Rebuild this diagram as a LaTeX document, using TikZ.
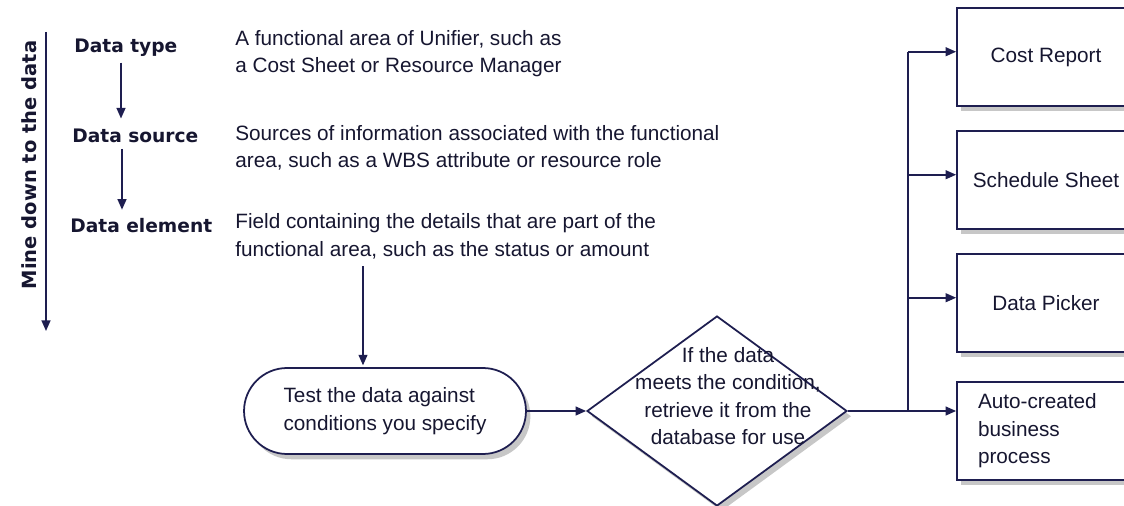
\documentclass[tikz,border=0pt]{standalone}
\usepackage{fontspec}
\setmainfont{Liberation Sans}
\newfontfamily\headfont{DejaVu Sans}
\usetikzlibrary{arrows.meta,shapes.geometric,shapes.misc,shadows}
\definecolor{ink}{RGB}{30,30,80}
\definecolor{txt}{RGB}{22,22,48}

\begin{document}
\begin{tikzpicture}[x=0.02cm,y=-0.02cm,
    every node/.style={text=txt,font=\fontsize{11.8}{15.6}\selectfont,inner sep=0pt},
    head/.style={font=\headfont\bfseries\fontsize{10.6}{13}\selectfont,anchor=base west},
    desc/.style={align=left,anchor=base west},
    arr/.style={draw=ink,line width=1pt,-{Triangle[length=6pt,width=5pt]}},
    wire/.style={draw=ink,line width=1pt},
    soft/.style={drop shadow={shadow xshift=2.5pt,shadow yshift=-3pt,opacity=0.22,fill=black}},
    terminal/.style={rounded rectangle,draw=ink,line width=1pt,fill=white,soft,align=left,minimum width=5.64cm,minimum height=1.72cm},
    decision/.style={diamond,draw=ink,line width=1pt,fill=white,soft,minimum width=5.2cm,minimum height=3.8cm},
    target/.style={rectangle,draw=ink,line width=1pt,fill=white,soft,minimum width=3.56cm,minimum height=1.96cm}]
  \useasboundingbox (0,0) rectangle (1124,506);
  \clip (0,0) rectangle (1124,506);
  \fill[white] (0,0) rectangle (1124,506);

  \coordinate (mtop) at (46,32);
  \coordinate (mbot) at (46,331);
  \draw[arr] (mtop) -- (mbot);
  \node[head,font=\headfont\bfseries\fontsize{11.1}{13}\selectfont,rotate=90,anchor=center] (mine) at (29,165) {Mine down to the data};

  \node[head] (dtype) at (74,53) {Data type};
  \node[head] (dsrc) at (72,143) {Data source};
  \node[head] (delem) at (70,233) {Data element};
  \draw[arr,shorten <=3pt,shorten >=6pt] (dtype.south -| 121,0) -- (dsrc.north -| 121,0);
  \draw[arr,shorten <=3pt,shorten >=5pt] (dsrc.south -| 122,0) -- (delem.north -| 122,0);

  \node[desc] (tdesc) at (235,73) {A functional area of Unifier, such as\\a Cost Sheet or Resource Manager};
  \node[desc] (sdesc) at (235,168) {Sources of information associated with the functional\\area, such as a WBS attribute or resource role};
  \node[desc] (edesc) at (235,256) {Field containing the details that are part of the\\functional area, such as the status or amount};

  \node[terminal] (test) at (385,411) {Test the data against\\conditions you specify};
  \draw[arr,shorten <=4pt,shorten >=1pt] (edesc.south -| 363,0) -- (test.north -| 363,0);

  \node[decision] (cond) at (717,411) {};
  \node[align=center] (condtext) at (728,396) {If the data\\meets the condition,\\retrieve it from the\\database for use};
  \draw[arr] (test.east) -- (cond.west);

  \node[target] (cost) at (1046,57) {Cost Report};
  \node[target] (sched) at (1046,180) {Schedule Sheet};
  \node[target] (pick) at (1046,303) {Data Picker};
  \node[target,text width=2.72cm,align=left] (auto) at (1046,431) {Auto-created\\business\\process};

  \coordinate (split) at (908,0 |- cond.east);
  \draw[arr] (cond.east) -- (auto.west |- cond.east);
  \draw[wire] (split) -- ([yshift=3pt]split |- cost.west);
  \foreach \b in {cost,sched,pick}
    \draw[arr] ([yshift=3pt]split |- \b.west) -- ([yshift=3pt]\b.west);
\end{tikzpicture}
\end{document}
